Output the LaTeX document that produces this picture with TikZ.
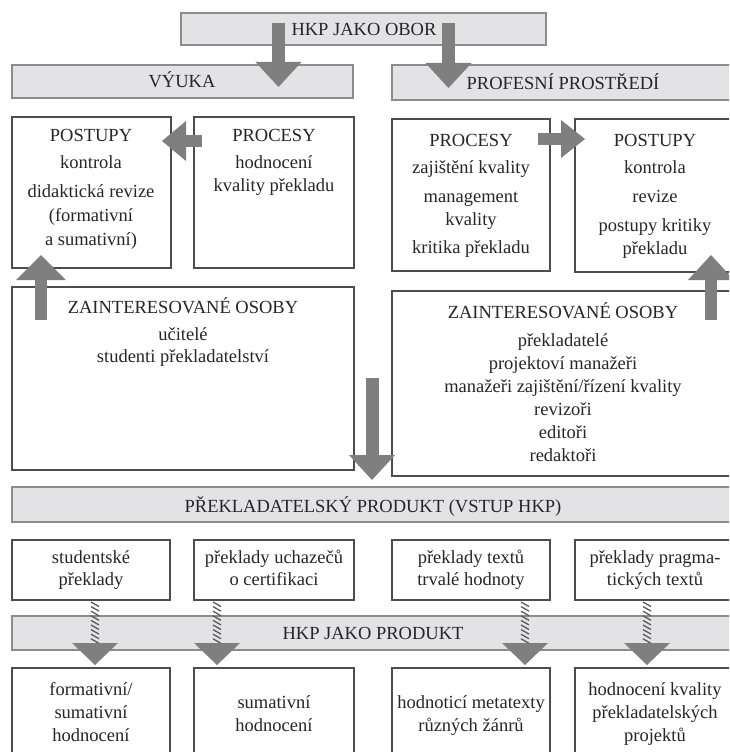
\documentclass[tikz,border=0pt]{standalone}
\usepackage{fontspec}
\setmainfont{Liberation Serif}
\usetikzlibrary{arrows.meta,fit}
\definecolor{bandfill}{HTML}{E3E3E5}
\definecolor{bandline}{HTML}{8C8C8C}
\definecolor{arrowgray}{HTML}{7F7F80}
\definecolor{boxline}{HTML}{4D4D4D}
\definecolor{txt}{HTML}{262626}
\definecolor{hatchgray}{HTML}{5A5A5A}
\newcommand\tl[4]{\node[lbl] (#1) at (#2,#3) {#4};}
\begin{document}
\begin{tikzpicture}[x=1pt,y=-1pt,
  band/.style={draw=bandline, line width=2.5pt, fill=bandfill, inner sep=0pt},
  wbox/.style={draw=boxline, line width=1.1pt, fill=white, inner sep=0pt},
  lbl/.style={text=txt, font=\fontsize{18.5}{23}\selectfont, anchor=base, inner sep=0pt},
  blk/.style={draw=arrowgray, line width=13pt, -{Triangle[length=25pt 0 0, width=46pt 0 0, line width=0pt]}},
  hhead/.style={draw=arrowgray, line width=0.1pt, -{Triangle[length=22pt 0 0, width=46pt 0 0, line width=0pt]}},
  hatchline/.style={draw=hatchgray, line width=1.3pt},
]
\useasboundingbox (0,0) rectangle (729,752);
\clip (0,0) rectangle (729,752);
\fill[white] (0,0) rectangle (729,752);

% bands
\node[band, fit={(181,13) (546,45)}] (obor) {};
\node[band, fit={(12,65) (353,98)}] (vyuka) {};
\node[band, fit={(392,65) (740,100)}] (prof) {};
\node[band, fit={(12,487) (740,522)}] (produkt) {};
\node[band, fit={(12,616) (740,650)}] (hkpprod) {};

% white boxes
\node[wbox, fit={(12,117) (171,268)}] (lpost) {};
\node[wbox, fit={(194,117) (354,268)}] (lproc) {};
\node[wbox, fit={(392,119) (550,271)}] (rproc) {};
\node[wbox, fit={(575,119) (735,272)}] (rpost) {};
\node[wbox, fit={(12,287) (354,470)}] (lzaint) {};
\node[wbox, fit={(392,291) (735,476)}] (rzaint) {};
\node[wbox, fit={(12,540) (170,600)}] (in1) {};
\node[wbox, fit={(194,540) (354,600)}] (in2) {};
\node[wbox, fit={(392,540) (550,600)}] (in3) {};
\node[wbox, fit={(575,540) (735,600)}] (in4) {};
\node[wbox, fit={(12,668) (170,770)}] (out1) {};
\node[wbox, fit={(194,668) (354,770)}] (out2) {};
\node[wbox, fit={(392,668) (550,770)}] (out3) {};
\node[wbox, fit={(575,668) (735,770)}] (out4) {};

% texts
\tl{t-obor}{364}{36}{HKP JAKO OBOR}
\tl{t-vyuka}{182}{88}{VÝUKA}
\tl{t-prof}{563}{89}{PROFESNÍ PROSTŘEDÍ}

\tl{t-lp1}{91}{141}{POSTUPY}
\tl{t-lp2}{91}{168}{kontrola}
\tl{t-lp3}{91}{197}{didaktická revize}
\tl{t-lp4}{91}{221}{(formativní}
\tl{t-lp5}{91}{245}{a sumativní)}

\tl{t-lc1}{274}{141}{PROCESY}
\tl{t-lc2}{274}{168}{hodnocení}
\tl{t-lc3}{274}{191}{kvality překladu}

\tl{t-rc1}{471}{146}{PROCESY}
\tl{t-rc2}{471}{173}{zajištění kvality}
\tl{t-rc3}{471}{202}{management}
\tl{t-rc4}{471}{225}{kvality}
\tl{t-rc5}{471}{253}{kritika překladu}

\tl{t-rp1}{655}{146}{POSTUPY}
\tl{t-rp2}{655}{173}{kontrola}
\tl{t-rp3}{655}{202}{revize}
\tl{t-rp4}{655}{231}{postupy kritiky}
\tl{t-rp5}{655}{254}{překladu}

\tl{t-lz1}{183}{313}{ZAINTERESOVANÉ OSOBY}
\tl{t-lz2}{183}{340}{učitelé}
\tl{t-lz3}{183}{362}{studenti překladatelství}

\tl{t-rz1}{563}{318}{ZAINTERESOVANÉ OSOBY}
\tl{t-rz2}{563}{346}{překladatelé}
\tl{t-rz3}{563}{369}{projektoví manažeři}
\tl{t-rz4}{563}{392}{manažeři zajištění/řízení kvality}
\tl{t-rz5}{563}{415}{revizoři}
\tl{t-rz6}{563}{438}{editoři}
\tl{t-rz7}{563}{461}{redaktoři}

\tl{t-produkt}{373}{512}{PŘEKLADATELSKÝ PRODUKT (VSTUP HKP)}

\tl{t-i1a}{91}{563}{studentské}
\tl{t-i1b}{91}{585}{překlady}
\tl{t-i2a}{274}{563}{překlady uchazečů}
\tl{t-i2b}{274}{585}{o certifikaci}
\tl{t-i3a}{471}{563}{překlady textů}
\tl{t-i3b}{471}{585}{trvalé hodnoty}
\tl{t-i4a}{655}{563}{překlady pragma-}
\tl{t-i4b}{655}{585}{tických textů}

\tl{t-hkpprod}{373}{639}{HKP JAKO PRODUKT}

\tl{t-o1a}{91}{695}{formativní/}
\tl{t-o1b}{91}{718}{sumativní}
\tl{t-o1c}{91}{741}{hodnocení}
\tl{t-o2a}{274}{708}{sumativní}
\tl{t-o2b}{274}{731}{hodnocení}
\tl{t-o3a}{471}{708}{hodnoticí metatexty}
\tl{t-o3b}{471}{731}{různých žánrů}
\tl{t-o4a}{655}{695}{hodnocení kvality}
\tl{t-o4b}{655}{718}{překladatelských}
\tl{t-o4c}{655}{741}{projektů}

% block arrows
\coordinate (a1s) at (278.5,23);  \coordinate (a1e) at (278.5,87);
\coordinate (a2s) at (448.5,23);  \coordinate (a2e) at (448.5,88);
\coordinate (a3s) at (202,141);   \coordinate (a3e) at (162,141);
\coordinate (a4s) at (538,139);   \coordinate (a4e) at (585,139);
\coordinate (a5s) at (41,320);    \coordinate (a5e) at (41,255);
\coordinate (a6s) at (711,320);   \coordinate (a6e) at (711,255);
\coordinate (a7s) at (372,378);   \coordinate (a7e) at (372,480);
\draw[blk] (a1s) -- (a1e);
\draw[blk] (a2s) -- (a2e);
\draw[blk, -{Triangle[length=24pt 0 0, width=40pt 0 0, line width=0pt]}, line width=12pt] (a3s) -- (a3e);
\draw[blk, -{Triangle[length=24pt 0 0, width=38pt 0 0, line width=0pt]}, line width=12pt] (a4s) -- (a4e);
\draw[blk, -{Triangle[length=25pt 0 0, width=50pt 0 0, line width=0pt]}, line width=12pt] (a5s) -- (a5e);
\draw[blk, -{Triangle[length=25pt 0 0, width=46pt 0 0, line width=0pt]}, line width=12pt] (a6s) -- (a6e);
\draw[blk] (a7s) -- (a7e);

% hatched arrows
\foreach \n/\x in {1/95,2/217,3/525,4/647}{
  \foreach \i in {0,...,8}{
    \draw[hatchline] (\x-4,602+4.6*\i) -- (\x+4,606.5+4.6*\i);
  }
  \coordinate (h\n s) at (\x,643);
  \coordinate (h\n e) at (\x,665);
  \draw[hhead] (h\n s) -- (h\n e);
}
\end{tikzpicture}
\end{document}
